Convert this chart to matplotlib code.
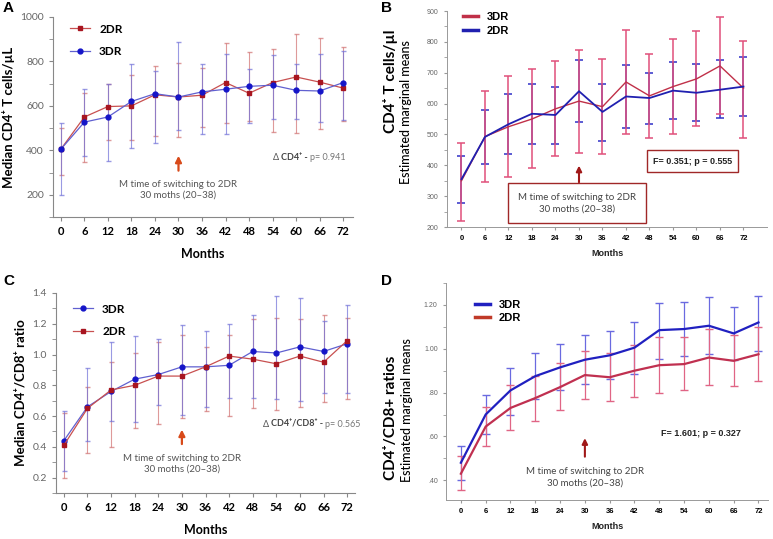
import numpy as np
import matplotlib
matplotlib.use('Agg')
import matplotlib.pyplot as plt
from matplotlib.ticker import MultipleLocator, FormatStrFormatter

plt.rcParams['font.family'] = ['Lato', 'DejaVu Sans']

months = [0, 6, 12, 18, 24, 30, 36, 42, 48, 54, 60, 66, 72]

# panel A - median CD4 counts
a_2dr = [405, 550, 597, 600, 650, 640, 648, 705, 657, 705, 730, 707, 680]
a_2dr_lo = [290, 348, 447, 447, 465, 460, 505, 523, 533, 483, 478, 498, 530]
a_2dr_hi = [500, 660, 697, 737, 778, 795, 770, 885, 843, 857, 925, 905, 863]
a_3dr = [405, 527, 550, 620, 655, 640, 663, 675, 688, 693, 670, 667, 705]
a_3dr_lo = [200, 375, 350, 412, 435, 492, 475, 475, 523, 543, 543, 527, 538]
a_3dr_hi = [525, 675, 697, 787, 757, 887, 787, 832, 765, 828, 790, 835, 848]

# panel B - estimated marginal means CD4
b_3dr = [350, 493, 525, 550, 583, 608, 590, 670, 625, 655, 680, 722, 650]
b_3dr_lo = [218, 345, 363, 390, 430, 441, 436, 502, 487, 502, 527, 567, 487]
b_3dr_hi = [472, 640, 690, 712, 738, 775, 743, 840, 762, 810, 835, 880, 803]
b_2dr = [355, 492, 533, 567, 563, 640, 573, 623, 618, 642, 635, 645, 655]
b_2dr_lo = [278, 403, 435, 470, 470, 540, 480, 522, 535, 550, 542, 553, 560]
b_2dr_hi = [430, 580, 632, 665, 655, 740, 665, 725, 700, 735, 727, 740, 750]

# panel C - median CD4/CD8 ratio
c_3dr = [0.44, 0.66, 0.76, 0.84, 0.87, 0.92, 0.92, 0.93, 1.02, 1.01, 1.05, 1.02, 1.07]
c_3dr_lo = [0.24, 0.44, 0.57, 0.56, 0.67, 0.61, 0.66, 0.72, 0.72, 0.71, 0.70, 0.75, 0.75]
c_3dr_hi = [0.63, 0.91, 1.08, 1.12, 1.10, 1.19, 1.15, 1.20, 1.26, 1.38, 1.37, 1.22, 1.32]
c_2dr = [0.41, 0.65, 0.77, 0.80, 0.86, 0.86, 0.92, 0.99, 0.97, 0.94, 0.99, 0.95, 1.09]
c_2dr_lo = [0.20, 0.36, 0.40, 0.52, 0.55, 0.59, 0.63, 0.60, 0.65, 0.64, 0.66, 0.69, 0.71]
c_2dr_hi = [0.62, 0.79, 0.95, 1.01, 1.08, 1.13, 1.05, 1.13, 1.23, 1.24, 1.23, 1.26, 1.24]

# panel D - estimated marginal means CD4/CD8
d_3dr = [0.48, 0.70, 0.81, 0.875, 0.915, 0.95, 0.97, 1.005, 1.085, 1.09, 1.105, 1.07, 1.12]
d_3dr_lo = [0.40, 0.61, 0.70, 0.77, 0.81, 0.84, 0.86, 0.885, 0.955, 0.965, 0.975, 0.95, 0.99]
d_3dr_hi = [0.555, 0.79, 0.91, 0.98, 1.02, 1.065, 1.08, 1.12, 1.21, 1.215, 1.235, 1.19, 1.24]
d_2dr = [0.43, 0.645, 0.73, 0.775, 0.825, 0.88, 0.87, 0.90, 0.925, 0.93, 0.96, 0.945, 0.975]
d_2dr_lo = [0.355, 0.555, 0.63, 0.67, 0.72, 0.77, 0.76, 0.78, 0.80, 0.81, 0.835, 0.83, 0.855]
d_2dr_hi = [0.51, 0.735, 0.835, 0.875, 0.935, 0.99, 0.98, 1.015, 1.055, 1.055, 1.09, 1.065, 1.10]

switch_text = 'M time of switching to 2DR\n30 moths (20–38)'


def err(v, lo, hi):
    v, lo, hi = np.array(v), np.array(lo), np.array(hi)
    return [v - lo, hi - v]


fig = plt.figure(figsize=(7.73, 5.39), dpi=100)
W, H = 773, 539


def add_ax(l, t, r, b):
    return fig.add_axes([l / W, 1 - b / H, (r - l) / W, (b - t) / H])


axA = add_ax(53, 17, 353, 217)
axB = add_ax(447, 11, 767, 227)
axC = add_ax(56, 293, 355, 493)
axD = add_ax(446, 283, 768, 500)

RED = '#a81520'
BLUE = '#1515c8'
ARIAL = ['Liberation Sans', 'DejaVu Sans']


def style_median(ax):
    for s in ['top', 'right']:
        ax.spines[s].set_visible(False)
    for s in ['left', 'bottom']:
        ax.spines[s].set_color('#888888')
        ax.spines[s].set_linewidth(0.8)
    ax.tick_params(axis='y', which='both', colors='#888888', labelcolor='#666666', labelsize=7.5, length=3)
    ax.tick_params(axis='x', colors='#888888', labelcolor='black', labelsize=8, length=3)
    ax.set_xticks(months)
    for lab in ax.get_xticklabels():
        lab.set_fontweight('bold')
    ax.set_xlabel('Months', fontsize=9, fontweight='bold', labelpad=8)


def style_emm(ax):
    for s in ['top', 'right']:
        ax.spines[s].set_visible(False)
    for s in ['left', 'bottom']:
        ax.spines[s].set_color('#999999')
        ax.spines[s].set_linewidth(0.7)
    ax.tick_params(axis='y', which='both', colors='#999999', labelcolor='#666666', labelsize=5, length=2.5)
    ax.tick_params(axis='x', colors='#999999', labelcolor='black', labelsize=5.5, length=2.5)
    ax.set_xticks(months)
    for lab in ax.get_xticklabels():
        lab.set_fontweight('bold')
        lab.set_family(ARIAL)
    for lab in ax.get_yticklabels():
        lab.set_family(ARIAL)
    ax.set_xlabel('Months', fontsize=6.5, fontweight='bold', color='#222222', labelpad=5, family=ARIAL)


def chain(ax, x, y, parts):
    # write text pieces one after another on the same line
    t = ax.text(x, y, parts[0][0], va='baseline', ha='left', **parts[0][1])
    for s, kw in parts[1:]:
        t = ax.annotate(s, xy=(1, 0), xycoords=t, va='bottom', ha='left', **kw)


# ---------- A ----------
ax = axA
ax.errorbar(months, a_2dr, yerr=err(a_2dr, a_2dr_lo, a_2dr_hi), fmt='none', ecolor='#d07070',
            elinewidth=0.8, capsize=1.8, alpha=0.7)
ax.errorbar(months, a_3dr, yerr=err(a_3dr, a_3dr_lo, a_3dr_hi), fmt='none', ecolor='#7070d8',
            elinewidth=0.8, capsize=1.8, alpha=0.7)
ax.plot(months, a_2dr, color='#c85050', lw=0.9, marker='s', ms=3.5, mfc=RED, mec=RED, label='2DR')
ax.plot(months, a_3dr, color='#6060d0', lw=0.9, marker='o', ms=3.5, mfc=BLUE, mec=BLUE, label='3DR')
ax.set_xlim(-2, 74.5)
ax.set_ylim(100, 1000)
ax.yaxis.set_major_locator(MultipleLocator(200))
ax.yaxis.set_minor_locator(MultipleLocator(100))
style_median(ax)
ax.set_ylabel('Median CD4⁺ T cells/µL', fontsize=9.5, fontweight='bold', labelpad=4)
ax.legend(loc='upper left', bbox_to_anchor=(0.02, 1.02), frameon=False, handlelength=1.7,
          labelspacing=1.0, prop={'size': 8.5, 'weight': 'bold'})
ax.annotate('', xy=(30, 388), xytext=(30, 296),
            arrowprops=dict(arrowstyle='-|>', color='#d84a1a', lw=1.6, mutation_scale=9))
ax.text(30, 222, switch_text, ha='center', va='center', fontsize=7, color='#555555', linespacing=1.3)
chain(ax, 54, 355, [('Δ ', dict(fontsize=6.5, color='#555555')),
                    ('CD4⁺ - ', dict(fontsize=6.5, fontweight='bold', color='#444444')),
                    ('p= 0.941', dict(fontsize=6.5, color='#777777'))])

# ---------- B ----------
ax = axB
ax.errorbar(months, b_2dr, yerr=err(b_2dr, b_2dr_lo, b_2dr_hi), fmt='none', ecolor='#3030c8',
            elinewidth=1.1, capsize=3, capthick=1.1)
ax.errorbar(months, b_3dr, yerr=err(b_3dr, b_3dr_lo, b_3dr_hi), fmt='none', ecolor='#e0507a',
            elinewidth=1.1, capsize=3, capthick=1.1)
ax.plot(months, b_3dr, color='#c03048', lw=1.0, label='3DR')
ax.plot(months, b_2dr, color='#2020b0', lw=1.3, label='2DR')
ax.set_xlim(-3.7, 78)
ax.set_ylim(200, 900)
ax.yaxis.set_major_locator(MultipleLocator(100))
ax.yaxis.set_minor_locator(MultipleLocator(50))
style_emm(ax)
leg = ax.legend(loc='upper left', bbox_to_anchor=(0.02, 1.04), frameon=False, handlelength=1.3,
                labelspacing=0.3, prop={'size': 8, 'weight': 'bold', 'family': ARIAL})
for h in leg.get_lines():
    h.set_linewidth(2.5)
ax.text(-0.178, 0.676, 'CD4⁺ T cells/µl', transform=ax.transAxes, rotation=90, ha='center',
        va='center', fontsize=11, fontweight='bold')
ax.text(-0.128, 0.53, 'Estimated marginal means', transform=ax.transAxes, rotation=90, ha='center',
        va='center', fontsize=9, fontweight='medium')
ax.text(59, 413, 'F= 0.351; p = 0.555', ha='center', va='center', fontsize=6.5, fontweight='bold',
        color='#222222', family=ARIAL,
        bbox=dict(boxstyle='square,pad=0.7', fc='white', ec='#a02828', lw=1.0))
ax.text(29.5, 278, switch_text, ha='center', va='center', fontsize=7, color='#444444', linespacing=1.4,
        bbox=dict(boxstyle='square,pad=1.0', fc='white', ec='#a02828', lw=1.0))
ax.annotate('', xy=(30, 408), xytext=(30, 336),
            arrowprops=dict(arrowstyle='-|>', color='#a01818', lw=1.5, mutation_scale=8))

# ---------- C ----------
ax = axC
ax.errorbar(months, c_2dr, yerr=err(c_2dr, c_2dr_lo, c_2dr_hi), fmt='none', ecolor='#d07070',
            elinewidth=0.8, capsize=1.8, alpha=0.7)
ax.errorbar(months, c_3dr, yerr=err(c_3dr, c_3dr_lo, c_3dr_hi), fmt='none', ecolor='#7070d8',
            elinewidth=0.8, capsize=1.8, alpha=0.7)
ax.plot(months, c_3dr, color='#6060d0', lw=0.9, marker='o', ms=3.5, mfc=BLUE, mec=BLUE, label='3DR')
ax.plot(months, c_2dr, color='#c85050', lw=0.9, marker='s', ms=3.5, mfc=RED, mec=RED, label='2DR')
ax.set_xlim(-2, 74)
ax.set_ylim(0.1, 1.4)
ax.yaxis.set_major_locator(MultipleLocator(0.2))
ax.yaxis.set_minor_locator(MultipleLocator(0.1))
ax.yaxis.set_major_formatter(FormatStrFormatter('%.1f'))
style_median(ax)
ax.set_ylabel('Median CD4⁺/CD8⁺ ratio', fontsize=9.5, fontweight='bold', labelpad=4)
ax.legend(loc='upper left', bbox_to_anchor=(0.02, 1.0), frameon=False, handlelength=1.7,
          labelspacing=1.0, prop={'size': 8.5, 'weight': 'bold'})
ax.annotate('', xy=(30, 0.53), xytext=(30, 0.40),
            arrowprops=dict(arrowstyle='-|>', color='#d84a1a', lw=1.6, mutation_scale=9))
ax.text(30, 0.29, switch_text, ha='center', va='center', fontsize=7, color='#555555', linespacing=1.3)
chain(ax, 50.5, 0.532, [('Δ ', dict(fontsize=6.5, color='#555555')),
                        ('CD4⁺/CD8⁺ - ', dict(fontsize=6.5, fontweight='bold', color='#444444')),
                        ('p= 0.565', dict(fontsize=6.5, color='#777777'))])

# ---------- D ----------
ax = axD
ax.errorbar(months, d_3dr, yerr=err(d_3dr, d_3dr_lo, d_3dr_hi), fmt='none', ecolor='#6a6ae0',
            elinewidth=0.9, capsize=3, capthick=1.0)
ax.errorbar(months, d_2dr, yerr=err(d_2dr, d_2dr_lo, d_2dr_hi), fmt='none', ecolor='#e06585',
            elinewidth=0.9, capsize=3, capthick=1.0)
ax.plot(months, d_3dr, color='#2020c0', lw=1.6, label='3DR')
ax.plot(months, d_2dr, color='#c03050', lw=1.6, label='2DR')
ax.set_xlim(-3.6, 74.3)
ax.set_ylim(0.31, 1.30)
ax.set_yticks([0.4, 0.6, 0.8, 1.0, 1.2])
ax.set_yticklabels(['.40', '.60', '.80', '1.00', '1.20'])
ax.yaxis.set_minor_locator(MultipleLocator(0.1))
style_emm(ax)
leg = ax.legend(loc='upper left', bbox_to_anchor=(0.06, 0.97), frameon=False, handlelength=1.3,
                labelspacing=0.3, prop={'size': 8, 'weight': 'bold', 'family': ARIAL})
leg.get_lines()[0].set_linewidth(2.5)
leg.get_lines()[1].set_linewidth(2.5)
leg.get_lines()[1].set_color('#c03a28')
ax.text(-0.172, 0.38, 'CD4⁺/CD8+ ratios', transform=ax.transAxes, rotation=90, ha='center',
        va='center', fontsize=11, fontweight='bold')
ax.text(-0.122, 0.415, 'Estimated marginal means', transform=ax.transAxes, rotation=90, ha='center',
        va='center', fontsize=9, fontweight='medium')
ax.text(58, 0.615, 'F= 1.601; p = 0.327', ha='center', va='center', fontsize=6.5, fontweight='bold',
        color='#222222', family=ARIAL)
ax.annotate('', xy=(30, 0.605), xytext=(30, 0.495),
            arrowprops=dict(arrowstyle='-|>', color='#a01818', lw=1.5, mutation_scale=8))
ax.text(30, 0.415, switch_text, ha='center', va='center', fontsize=7, color='#444444', linespacing=1.4)

# panel letters
for x, y, s in [(3, 8, 'A'), (381, 8, 'B'), (3, 281, 'C'), (381, 281, 'D')]:
    fig.text(x / W, 1 - y / H, s, fontsize=11, fontweight='bold', va='center', ha='left', family=ARIAL)

fig.savefig('out.png', dpi=100)
